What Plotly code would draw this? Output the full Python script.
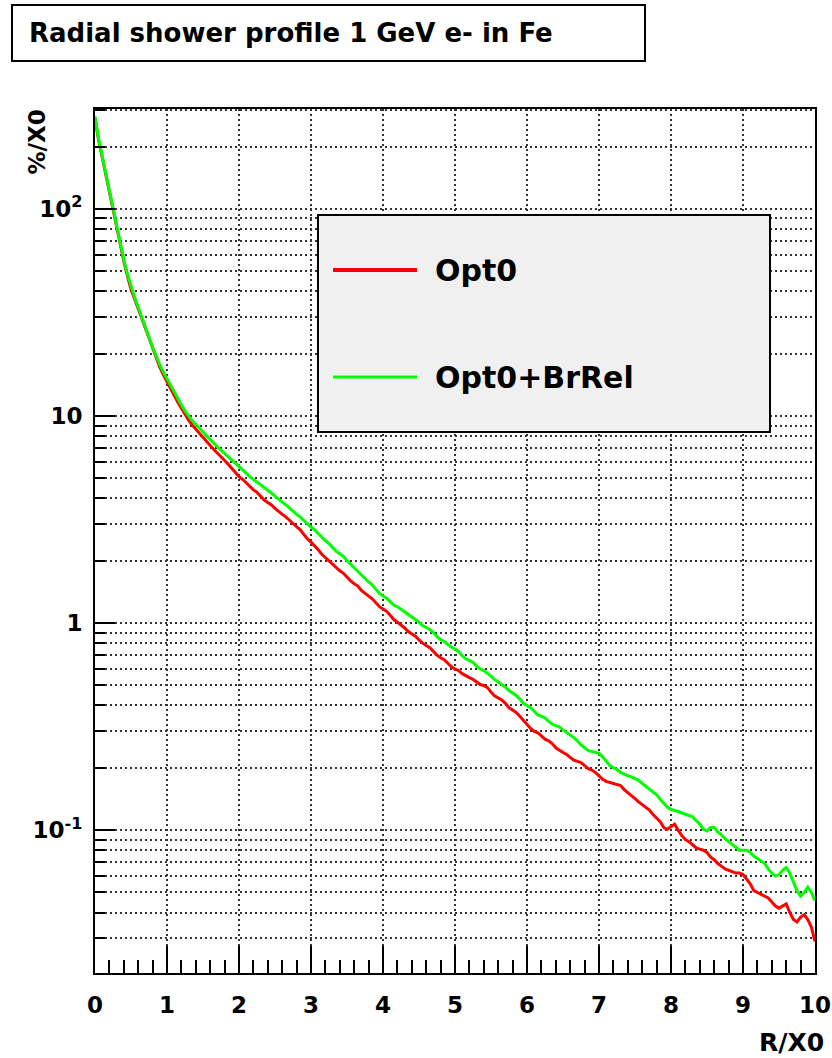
import plotly.graph_objects as go

# Radial shower profile, 1 GeV electrons in iron (bin centres in units of X0, step 0.05)
r_x0 = [round(0.05 * i, 2) for i in range(201)]

opt0 = [
    275, 215, 178, 146, 121, 100, 82, 68, 56, 47.5,
    41, 36.8, 33, 29.8, 26.5, 23.6, 21, 18.9, 17.2, 15.8,
    14.6, 13.5, 12.5, 11.65, 10.9, 10.15, 9.55, 9.05, 8.6, 8.25,
    7.9, 7.5, 7.2, 6.9, 6.6, 6.35, 6.1, 5.85, 5.6, 5.35,
    5.1, 4.95, 4.75, 4.55, 4.4, 4.28, 4.1, 3.93, 3.82, 3.72,
    3.58, 3.45, 3.35, 3.26, 3.14, 3.0, 2.92, 2.82, 2.68, 2.55,
    2.46, 2.37, 2.26, 2.15, 2.07, 2.0, 1.92, 1.84, 1.79, 1.74,
    1.66, 1.6, 1.55, 1.51, 1.44, 1.39, 1.35, 1.31, 1.25, 1.2,
    1.17, 1.14, 1.09, 1.04, 1.01, 0.98, 0.947, 0.91, 0.888, 0.865,
    0.83, 0.80, 0.78, 0.76, 0.73, 0.70, 0.68, 0.665, 0.64, 0.615,
    0.60, 0.59, 0.57, 0.555, 0.545, 0.535, 0.52, 0.505, 0.50, 0.488,
    0.465, 0.445, 0.435, 0.425, 0.41, 0.39, 0.38, 0.37, 0.355, 0.338,
    0.325, 0.31, 0.30, 0.295, 0.285, 0.275, 0.27, 0.262, 0.25, 0.243,
    0.237, 0.232, 0.225, 0.218, 0.215, 0.212, 0.205, 0.198, 0.195, 0.19,
    0.183, 0.176, 0.172, 0.17, 0.168, 0.167, 0.164, 0.157, 0.152, 0.148,
    0.142, 0.137, 0.133, 0.13, 0.125, 0.119, 0.115, 0.11, 0.103, 0.101,
    0.104, 0.107, 0.100, 0.094, 0.090, 0.088, 0.085, 0.082, 0.081, 0.080,
    0.078, 0.074, 0.072, 0.069, 0.067, 0.065, 0.064, 0.063, 0.062, 0.062,
    0.061, 0.058, 0.055, 0.051, 0.050, 0.049, 0.048, 0.047, 0.045, 0.043,
    0.042, 0.043, 0.044, 0.040, 0.037, 0.036, 0.038, 0.039, 0.037, 0.034,
    0.029,
]

opt0_brrel = [
    280, 218, 180, 148, 122, 101, 83, 69, 57, 48.5,
    42, 37.5, 33.5, 30.2, 27, 24, 21.5, 19.4, 17.7, 16.3,
    15.1, 14.0, 13.0, 12.1, 11.3, 10.6, 10.0, 9.5, 9.1, 8.75,
    8.4, 8.0, 7.7, 7.4, 7.1, 6.85, 6.6, 6.4, 6.15, 5.9,
    5.7, 5.5, 5.3, 5.1, 4.95, 4.82, 4.65, 4.5, 4.37, 4.25,
    4.1, 3.95, 3.84, 3.73, 3.59, 3.45, 3.35, 3.25, 3.13, 3.0,
    2.91, 2.82, 2.70, 2.58, 2.50, 2.42, 2.32, 2.22, 2.16, 2.1,
    2.0, 1.92, 1.85, 1.79, 1.71, 1.64, 1.58, 1.53, 1.46, 1.39,
    1.35, 1.32, 1.27, 1.22, 1.20, 1.17, 1.135, 1.10, 1.07, 1.045,
    1.01, 0.97, 0.955, 0.93, 0.90, 0.86, 0.83, 0.815, 0.79, 0.765,
    0.75, 0.73, 0.695, 0.672, 0.66, 0.645, 0.62, 0.60, 0.59, 0.575,
    0.555, 0.535, 0.52, 0.505, 0.49, 0.472, 0.46, 0.447, 0.43, 0.41,
    0.40, 0.39, 0.375, 0.36, 0.355, 0.348, 0.335, 0.325, 0.32, 0.315,
    0.305, 0.296, 0.29, 0.28, 0.27, 0.258, 0.25, 0.242, 0.24, 0.238,
    0.235, 0.226, 0.215, 0.205, 0.20, 0.196, 0.19, 0.186, 0.183, 0.181,
    0.178, 0.174, 0.168, 0.163, 0.158, 0.153, 0.148, 0.141, 0.135, 0.129,
    0.126, 0.125, 0.123, 0.121, 0.119, 0.118, 0.116, 0.111, 0.107, 0.101,
    0.099, 0.103, 0.103, 0.098, 0.095, 0.091, 0.088, 0.085, 0.082, 0.080,
    0.080, 0.080, 0.078, 0.075, 0.073, 0.071, 0.069, 0.065, 0.062, 0.060,
    0.061, 0.064, 0.066, 0.062, 0.056, 0.051, 0.048, 0.050, 0.053, 0.050,
    0.0456,
]

series_names = ["Opt0", "Opt0+BrRel"]
series_colors = ["#ff0000", "#00ff00"]

x_ticks = list(range(11))
y_ticks = [0.1, 1, 10, 100]
y_tick_text = ["10<sup>-1</sup>", "1", "10", "10<sup>2</sup>"]

FONT = "DejaVu Sans"
W, H = 832, 1058
L, R, T, B = 95, 17, 109, 85
PW, PH = W - L - R, H - T - B


def px(x):
    return (x - L) / PW


def py(y):
    return (H - B - y) / PH


fig = go.Figure()
for name, vals, col in zip(series_names, [opt0, opt0_brrel], series_colors):
    fig.add_trace(go.Scatter(
        x=r_x0, y=vals, mode="lines", name=name,
        line=dict(color=col, width=3), showlegend=False,
    ))

grid_dash = "2px,3px"
fig.update_xaxes(
    range=[0, 10], tickvals=x_ticks, automargin=False,
    ticks="inside", ticklen=27, tickwidth=2, tickcolor="black",
    showline=True, linecolor="black", linewidth=2, mirror=True,
    showgrid=True, gridcolor="#333333", gridwidth=1.5, griddash=grid_dash,
    zeroline=False,
    tickfont=dict(family=FONT, size=23, color="black", weight="bold"),
    ticklabelstandoff=10,
    minor=dict(dtick=0.2, ticks="inside", ticklen=13, tickwidth=2,
               tickcolor="black", showgrid=False),
)
fig.update_yaxes(
    type="log", range=[-1.690, 2.483], automargin=False,
    tickmode="array", tickvals=y_ticks, ticktext=y_tick_text,
    ticks="inside", ticklen=20, tickwidth=2, tickcolor="black",
    showline=True, linecolor="black", linewidth=2, mirror=True,
    showgrid=True, gridcolor="#333333", gridwidth=1.5, griddash=grid_dash,
    zeroline=False,
    tickfont=dict(family=FONT, size=23, color="black", weight="bold"),
    ticklabelstandoff=6,
    minor=dict(dtick="D1", ticks="inside", ticklen=10, tickwidth=2,
               tickcolor="black", showgrid=True, gridcolor="#333333",
               gridwidth=1.5, griddash=grid_dash),
)

shapes = []
annotations = []

# Title box
shapes.append(dict(type="rect", xref="paper", yref="paper",
                   x0=px(12), x1=px(645), y0=py(61), y1=py(5),
                   line=dict(color="black", width=2), fillcolor="white"))
annotations.append(dict(xref="paper", yref="paper", x=px(27), y=py(33),
                        xanchor="left", yanchor="middle", showarrow=False,
                        text="Radial shower profile 1 GeV e- in Fe",
                        font=dict(family=FONT, size=26, color="black", weight="bold")))

# Axis titles
annotations.append(dict(xref="paper", yref="paper", x=px(826), y=py(1042),
                        xanchor="right", yanchor="middle", showarrow=False,
                        text="R/X0",
                        font=dict(family=FONT, size=25, color="black", weight="bold")))
annotations.append(dict(xref="paper", yref="paper", x=px(37), y=py(107),
                        xanchor="center", yanchor="top", showarrow=False,
                        text="%/X0", textangle=-90,
                        font=dict(family=FONT, size=23, color="black", weight="bold")))

# Legend
shapes.append(dict(type="rect", xref="paper", yref="paper",
                   x0=px(318), x1=px(770), y0=py(432), y1=py(215),
                   line=dict(color="black", width=2), fillcolor="#f0f0f0"))
for name, col, yy, lw in zip(series_names, series_colors, [270, 377], [4, 3]):
    shapes.append(dict(type="line", xref="paper", yref="paper",
                       x0=px(333), x1=px(417), y0=py(yy), y1=py(yy),
                       line=dict(color=col, width=lw)))
    annotations.append(dict(xref="paper", yref="paper", x=px(433), y=py(yy),
                            xanchor="left", yanchor="middle", showarrow=False,
                            text=name,
                            font=dict(family=FONT, size=30, color="black", weight="bold")))

fig.update_layout(
    width=W, height=H,
    margin=dict(l=L, r=R, t=T, b=B, autoexpand=False),
    paper_bgcolor="white", plot_bgcolor="white",
    shapes=shapes, annotations=annotations,
    showlegend=False,
)

fig.write_html("out.html")
